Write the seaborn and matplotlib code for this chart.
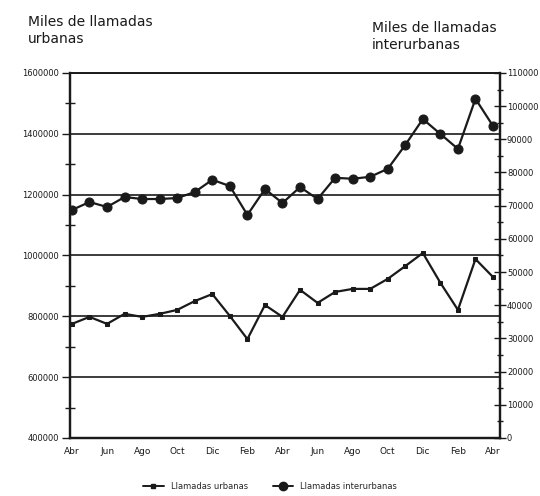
import numpy as np
import pandas as pd
import matplotlib
matplotlib.use("Agg")
import matplotlib.pyplot as plt
from matplotlib.ticker import MultipleLocator, FixedLocator
from matplotlib.lines import Line2D
import seaborn as sns

months = ["Abr", "May", "Jun", "Jul", "Ago", "Sep", "Oct", "Nov", "Dic", "Ene", "Feb", "Mar",
          "Abr", "May", "Jun", "Jul", "Ago", "Sep", "Oct", "Nov", "Dic", "Ene", "Feb", "Mar", "Abr"]

urbanas = [775000, 798000, 775000, 808000, 798000, 808000, 821000, 850000, 873000,
           801000, 725000, 837000, 798000, 887000, 844000, 880000, 890000, 890000,
           923000, 965000, 1008000, 910000, 821000, 988000, 929000]

interurbanas = [68700, 71100, 69600, 72600, 72000, 72000, 72300, 74100, 77800,
                75900, 67200, 75000, 70800, 75600, 72000, 78400, 78100, 78700,
                81100, 88300, 96100, 91600, 87100, 102200, 94000]

df = pd.DataFrame({
    "mes": np.arange(len(months)),
    "urbanas": urbanas,
    "interurbanas": interurbanas,
})

sns.set_style("white")
plt.rcParams["font.family"] = ["DejaVu Sans"]

fig = plt.figure(figsize=(5.4, 4.96), dpi=100)
ax = fig.add_axes([0.13, 0.117, 0.796, 0.736])
ax2 = ax.twinx()

ink = "#1a1a1a"

sns.lineplot(data=df, x="mes", y="urbanas", ax=ax, color=ink, lw=1.6,
             marker="s", markersize=2.5, markeredgecolor=ink)
sns.lineplot(data=df, x="mes", y="interurbanas", ax=ax2, color=ink, lw=1.6,
             marker="o", markersize=6.5, markeredgecolor=ink)

ax.set_xlim(-0.1, 24.4)
ax.set_ylim(400000, 1600000)
ax2.set_ylim(0, 110000)

for v in range(600000, 1600001, 200000):
    ax.axhline(v, color=ink, lw=1.2, zorder=0)

ax.yaxis.set_major_locator(MultipleLocator(200000))
ax.yaxis.set_minor_locator(MultipleLocator(100000))
ax.tick_params(axis="y", which="major", direction="out", length=6, width=1,
               labelsize=6, color=ink, labelcolor=ink, pad=2)
ax.tick_params(axis="y", which="minor", direction="inout", length=7, width=1, color=ink)

ax2.yaxis.set_major_locator(MultipleLocator(10000))
ax2.yaxis.set_minor_locator(MultipleLocator(5000))
ax2.tick_params(axis="y", which="major", direction="inout", length=8, width=1,
                labelsize=6, color=ink, labelcolor=ink, pad=1)
ax2.tick_params(axis="y", which="minor", direction="inout", length=5, width=1, color=ink)

ax.xaxis.set_major_locator(FixedLocator(df["mes"][::2]))
ax.xaxis.set_minor_locator(FixedLocator(df["mes"]))
ax.set_xticklabels(months[::2])
ax.tick_params(axis="x", which="both", direction="inout", length=9, width=1.2,
               labelsize=6.5, color=ink, labelcolor=ink, pad=2)

ax.set_xlabel("")
ax.set_ylabel("")
ax2.set_ylabel("")
ax.ticklabel_format(axis="y", style="plain")

for a in (ax, ax2):
    for s in a.spines.values():
        s.set_color(ink)
        s.set_linewidth(1.2)
    a.spines["left"].set_linewidth(1.6)
    a.spines["right"].set_linewidth(1.6)
    a.spines["bottom"].set_linewidth(1.6)

fig.text(0.052, 0.97, "Miles de llamadas\nurbanas", fontsize=10, color=ink,
         ha="left", va="top", linespacing=1.3)
fig.text(0.688, 0.958, "Miles de llamadas\ninterurbanas", fontsize=10, color=ink,
         ha="left", va="top", linespacing=1.3)

handles = [
    Line2D([], [], color=ink, lw=1.4, marker="s", markersize=2.5),
    Line2D([], [], color=ink, lw=1.4, marker="o", markersize=6),
]
fig.legend(handles, ["Llamadas urbanas", "Llamadas interurbanas"],
           loc="center", bbox_to_anchor=(0.5, 0.02), ncol=2, frameon=False,
           fontsize=6, handlelength=2.5, columnspacing=3)

fig.savefig("out.png", dpi=100)
